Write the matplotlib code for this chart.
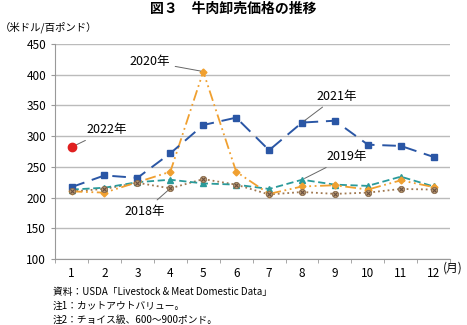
import matplotlib.pyplot as plt
import numpy as np

plt.rcParams['font.family'] = ['Noto Sans CJK JP', 'DejaVu Sans']

# データ（米ドル/百ポンド）
months = np.arange(1, 13)
month_labels = [str(m) for m in months]
y2018 = [210, 214, 224, 215, 230, 221, 205, 209, 206, 208, 214, 213]
y2019 = [213, 216, 225, 229, 223, 221, 214, 229, 221, 219, 234, 218]
y2020 = [210, 208, 225, 242, 405, 242, 206, 218, 220, 213, 228, 217]
y2021 = [217, 236, 232, 272, 318, 330, 277, 322, 325, 286, 284, 266]
y2022 = [282]

fig = plt.figure(figsize=(4.67, 3.25), dpi=100)
ax = fig.add_axes([0.118, 0.203, 0.846, 0.662])

ax.plot(months, y2018, color='#A07850', linestyle=':', linewidth=1.3, zorder=3)
ax.plot(months, y2018, 'o', color='#B89870', markersize=4.5, markeredgecolor='#8A6A4A',
        markeredgewidth=0.6, zorder=4)
ax.plot(months, y2018, 'x', color='#6A5040', markersize=3.5, markeredgewidth=0.8, zorder=5)
ax.plot(months, y2019, color='#2A9A9A', linestyle=(0, (4, 2)), linewidth=1.3,
        marker='^', markersize=4, zorder=3)
ax.plot(months, y2020, color='#F0A030', linestyle=(0, (6, 2, 1, 2, 1, 2)), linewidth=1.3,
        marker='D', markersize=3.5, zorder=3)
ax.plot(months, y2021, color='#2A56A5', linestyle=(0, (7, 4)), linewidth=1.4,
        marker='s', markersize=4, zorder=3)
ax.plot(months[:1], y2022, 'o', color='#E02020', markersize=6, zorder=4)

ax.set_xlim(0.5, 12.5)
ax.set_ylim(100, 450)
ax.set_yticks(np.arange(100, 451, 50))
ax.set_xticks(months)
ax.set_xticklabels(month_labels)
ax.set_xticks(np.arange(0.5, 12.6, 1), minor=True)
ax.tick_params(axis='x', which='major', length=0, labelsize=8.5, pad=6)
ax.tick_params(axis='x', which='minor', length=3, color='#999999')
ax.tick_params(axis='y', length=3, color='#999999', labelsize=8.5)
ax.grid(axis='y', color='#BBBBBB', linewidth=1)
ax.set_axisbelow(True)
for s in ['top', 'right']:
    ax.spines[s].set_visible(False)
for s in ['left', 'bottom']:
    ax.spines[s].set_color('#999999')

line_kw = dict(arrowstyle='-', color='#666666', lw=0.7)
ax.annotate('2020年', xy=(5, 405), xytext=(3.98, 421), ha='right', va='center',
            fontsize=9, arrowprops=line_kw)
ax.annotate('2021年', xy=(8, 322), xytext=(8.45, 365), ha='left', va='center',
            fontsize=9, arrowprops=line_kw)
ax.annotate('2019年', xy=(8, 229), xytext=(8.75, 266), ha='left', va='center',
            fontsize=9, arrowprops=line_kw)
ax.annotate('2018年', xy=(4, 215), xytext=(3.83, 178), ha='right', va='center',
            fontsize=9, arrowprops=line_kw)
ax.annotate('2022年', xy=(1, 282), xytext=(1.46, 310), ha='left', va='center',
            fontsize=9, arrowprops=line_kw)

fig.text(0.5, 0.972, '図３　牛肉卸売価格の推移', ha='center', va='center',
         fontsize=10, fontweight='bold')
fig.text(0.0, 0.915, '（米ドル/百ポンド）', ha='left', va='center', fontsize=7.5)
fig.text(0.948, 0.175, '(月)', ha='left', va='center', fontsize=8.5)
fig.text(0.113, 0.102, '資料：USDA「Livestock & Meat Domestic Data」', ha='left',
         va='center', fontsize=7)
fig.text(0.113, 0.058, '注1：カットアウトバリュー。', ha='left', va='center', fontsize=7)
fig.text(0.113, 0.015, '注2：チョイス級、600～900ポンド。', ha='left', va='center', fontsize=7)

fig.savefig('out.png', dpi=100)
